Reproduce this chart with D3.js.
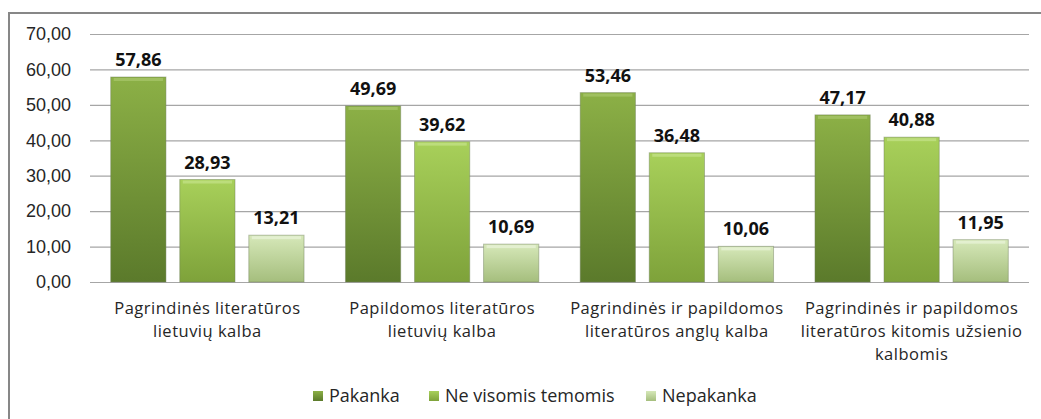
<!DOCTYPE html>
<html>
<head>
<meta charset="utf-8">
<script src="https://cdn.jsdelivr.net/npm/d3@7"></script>
<style>
  body { margin: 0; background: #fff; }
  svg { display: block; font-family: "Open Sans", "Noto Sans", sans-serif; }
</style>
</head>
<body>
<svg id="chart"></svg>
<script>
const categories = [
  ["Pagrindinės literatūros", "lietuvių kalba"],
  ["Papildomos literatūros", "lietuvių kalba"],
  ["Pagrindinės ir papildomos", "literatūros anglų kalba"],
  ["Pagrindinės ir papildomos", "literatūros kitomis užsienio", "kalbomis"]
];
const seriesNames = ["Pakanka", "Ne visomis temomis", "Nepakanka"];
const pakanka = [57.86, 49.69, 53.46, 47.17];
const neVisomis = [28.93, 39.62, 36.48, 40.88];
const nepakanka = [13.21, 10.69, 10.06, 11.95];
const yTicks = [0, 10, 20, 30, 40, 50, 60, 70];

const width = 1041, height = 419;
const margin = { top: 34, right: 12, bottom: 137, left: 90 };

const svg = d3.select("#chart").attr("width", width).attr("height", height);

// colour gradients (top -> bottom) for a bevel look
const palette = [
  { top: "#8cb046", bottom: "#5b7a2b", edge: "#a9c86c" },
  { top: "#a8d05a", bottom: "#7ea23a", edge: "#c4e28a" },
  { top: "#d6e8b9", bottom: "#a5be7d", edge: "#eaf4da" }
];
const defs = svg.append("defs");
palette.forEach((p, i) => {
  const g = defs.append("linearGradient").attr("id", "grad" + i)
    .attr("x1", 0).attr("y1", 0).attr("x2", 0).attr("y2", 1);
  g.append("stop").attr("offset", "0%").attr("stop-color", p.top);
  g.append("stop").attr("offset", "100%").attr("stop-color", p.bottom);
});

// outer chart border
svg.append("rect")
  .attr("x", 9).attr("y", 13)
  .attr("width", 1040).attr("height", 420)
  .attr("fill", "none").attr("stroke", "#878787").attr("stroke-width", 2);

const x0 = d3.scaleBand()
  .domain(d3.range(categories.length))
  .range([margin.left, width - margin.right]);

const x1 = d3.scaleBand()
  .domain(d3.range(seriesNames.length))
  .range([0, x0.bandwidth()])
  .paddingInner(0.2).paddingOuter(0.3);

const y = d3.scaleLinear()
  .domain([0, 70])
  .range([height - margin.bottom, margin.top]);

// gridlines + y axis labels
const yAxis = svg.append("g")
  .attr("transform", `translate(${margin.left},0)`)
  .call(d3.axisLeft(y).tickValues(yTicks)
    .tickSize(-(width - margin.left - margin.right))
    .tickPadding(19)
    .tickFormat(d => d3.format(".2f")(d).replace(".", ",")));
yAxis.select(".domain").remove();
yAxis.selectAll(".tick line").attr("stroke", "#a6a6a6").attr("stroke-width", 1.2);
yAxis.selectAll(".tick text")
  .attr("fill", "#262626").style("font-size", "18px");

const seriesValues = [pakanka, neVisomis, nepakanka];
const rows = categories.map((c, i) => seriesValues.map((vals, s) => ({ cat: i, s, v: vals[i] })));

const groups = svg.append("g").selectAll("g")
  .data(rows).join("g")
  .attr("transform", (d, i) => `translate(${x0(i)},0)`);

// bars
groups.selectAll("rect.bar")
  .data(d => d).join("rect")
  .attr("class", "bar")
  .attr("x", d => x1(d.s))
  .attr("y", d => y(d.v))
  .attr("width", x1.bandwidth())
  .attr("height", d => y(0) - y(d.v))
  .attr("fill", d => `url(#grad${d.s})`)
  .attr("stroke", "#6f7f5a").attr("stroke-opacity", 0.45).attr("stroke-width", 1);

// bevel highlight on top
groups.selectAll("rect.bevel")
  .data(d => d).join("rect")
  .attr("class", "bevel")
  .attr("x", d => x1(d.s) + 3)
  .attr("y", d => y(d.v) + 1)
  .attr("width", x1.bandwidth() - 6)
  .attr("height", 3)
  .attr("fill", d => palette[d.s].edge)
  .attr("opacity", 0.7);

// value labels
groups.selectAll("text.val")
  .data(d => d).join("text")
  .attr("class", "val")
  .attr("x", d => x1(d.s) + x1.bandwidth() / 2)
  .attr("y", d => y(d.v) - 11)
  .attr("text-anchor", "middle")
  .attr("fill", "#111")
  .style("font-size", "18px")
  .style("font-weight", "bold")
  .text(d => d3.format(".2f")(d.v).replace(".", ","));

// category labels
const catLabels = svg.append("g").selectAll("text")
  .data(categories).join("text")
  .attr("x", (d, i) => x0(i) + x0.bandwidth() / 2)
  .attr("y", 314)
  .attr("text-anchor", "middle")
  .attr("fill", "#262626")
  .style("font-size", "16.5px")
  .style("letter-spacing", "0.5px");
catLabels.selectAll("tspan")
  .data(d => d).join("tspan")
  .attr("x", function() { return this.parentNode.getAttribute("x"); })
  .attr("dy", (d, i) => i === 0 ? 0 : 23)
  .text(d => d);

// legend
const legendX = [313, 429, 646];
const legend = svg.append("g").selectAll("g")
  .data(seriesNames).join("g")
  .attr("transform", (d, i) => `translate(${legendX[i]},391)`);
legend.append("rect")
  .attr("width", 10).attr("height", 10)
  .attr("fill", (d, i) => `url(#grad${i})`);
legend.append("text")
  .attr("x", 16).attr("y", 11)
  .attr("fill", "#262626")
  .style("font-size", "18px")
  .text(d => d);
</script>
</body>
</html>
